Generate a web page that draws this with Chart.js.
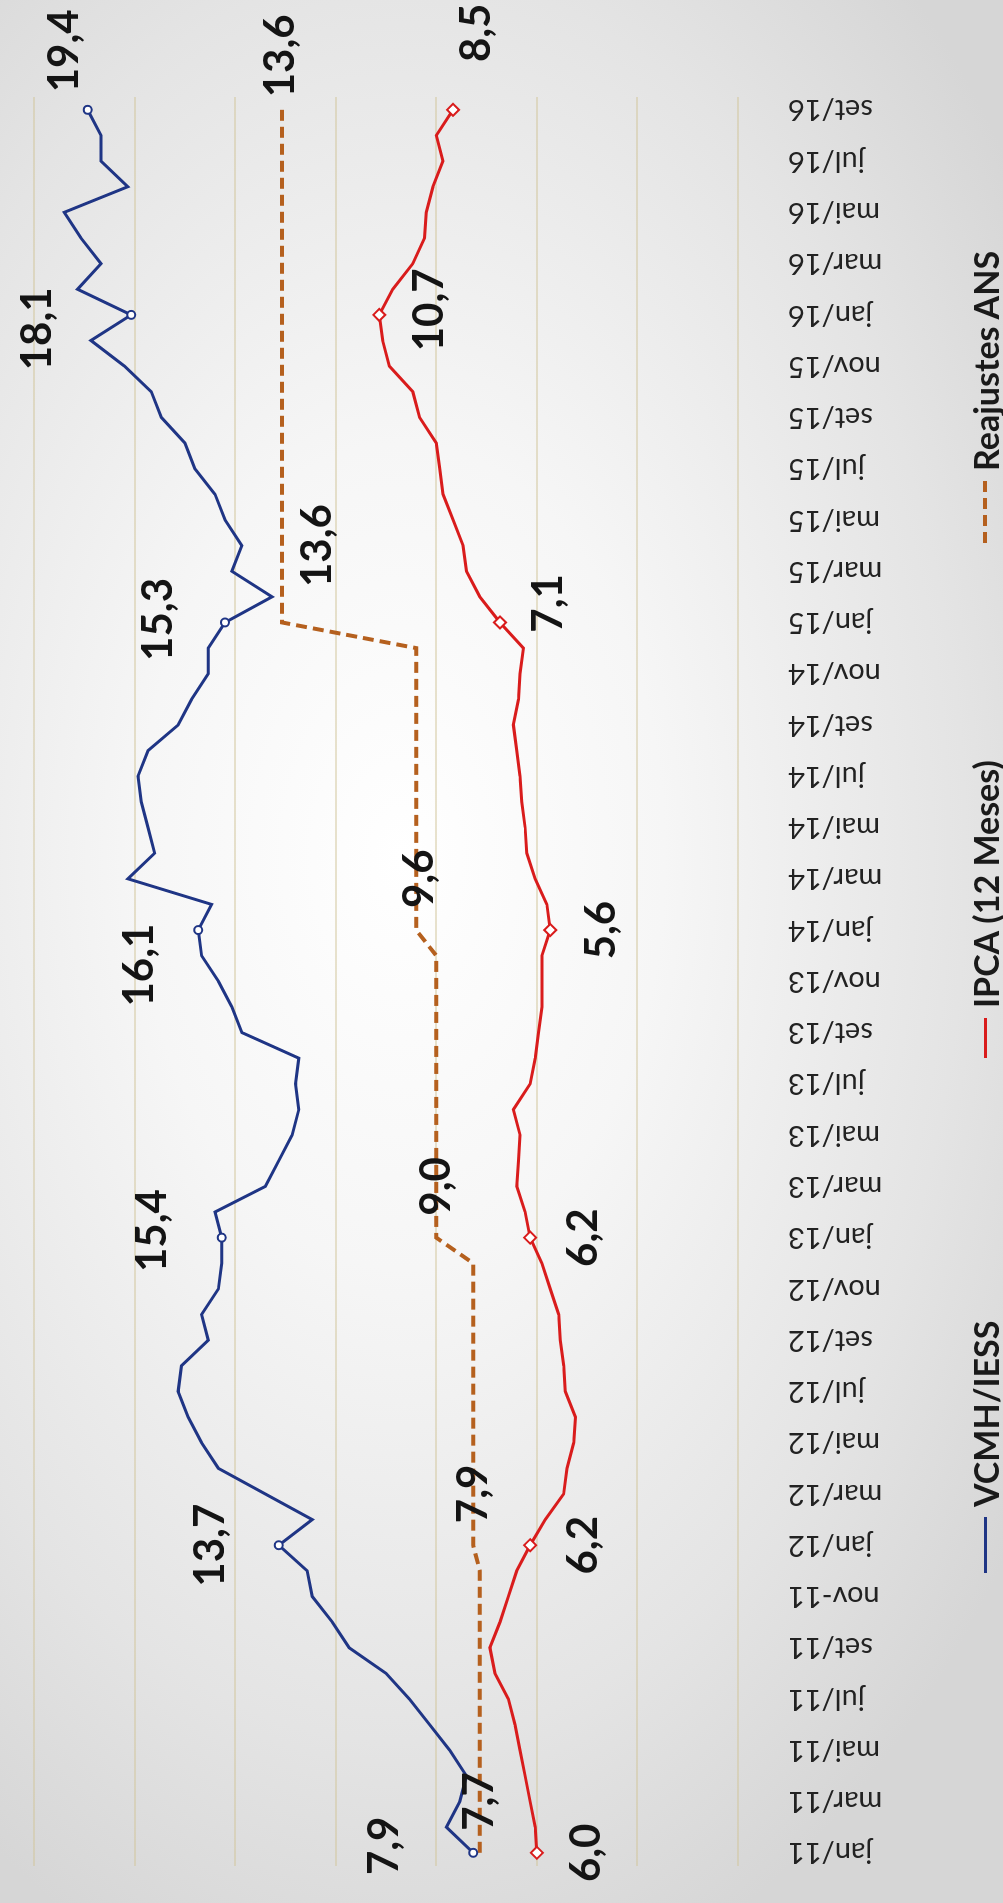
<!DOCTYPE html>
<html lang="pt-BR">
<head>
    <meta charset="UTF-8">
    <title>VCMH/IESS x IPCA x Reajustes ANS</title>
    <script src="https://cdn.jsdelivr.net/npm/chart.js"></script>
    <style>
        html, body {
            margin: 0;
            padding: 0;
        }
        body {
            width: 1003px;
            height: 1903px;
            overflow: hidden;
            position: relative;
            font-family: Lato, "Open Sans", sans-serif;
            background: radial-gradient(ellipse 75% 62% at 40% 45%, #ffffff 0%, #f6f6f6 35%, #e4e4e4 75%, #d6d6d6 100%);
        }
        /* the chart is drawn lying on its side: the frame is turned a quarter left */
        #frame {
            position: absolute;
            left: 0;
            top: 0;
            width: 1903px;
            height: 1003px;
            transform-origin: 0 0;
            transform: translate(0, 1903px) rotate(-90deg);
        }
        #chart {
            position: absolute;
            left: 0;
            top: 0;
        }
        .legend-item {
            position: absolute;
            top: 965px;
            height: 40px;
            display: flex;
            align-items: center;
            font-weight: bold;
            font-size: 34px;
            color: #1a1a1a;
            white-space: nowrap;
        }
        .key {
            display: inline-block;
            margin-right: 10px;
        }
    </style>
</head>
<body>
<div id="frame">
    <canvas id="chart" width="1903" height="1003"></canvas>
    <div class="legend-item" style="left: 330px;">
        <span class="key" style="width: 56px; height: 3px; background: #1f3585;"></span>VCMH/IESS
    </div>
    <div class="legend-item" style="left: 845px;">
        <span class="key" style="width: 40px; height: 3px; background: #d91c1c;"></span>IPCA (12 Meses)
    </div>
    <div class="legend-item" style="left: 1360px;">
        <span class="key" style="width: 62px; height: 4px; background: repeating-linear-gradient(to right, #b5601e 0 11px, transparent 11px 17px);"></span>Reajustes ANS
    </div>
</div>

<script>
    const months = [
        'jan/11', 'fev/11', 'mar/11', 'abr/11', 'mai/11', 'jun/11', 'jul/11', 'ago/11', 'set/11', 'out/11', 'nov-11', 'dez/11',
        'jan/12', 'fev/12', 'mar/12', 'abr/12', 'mai/12', 'jun/12', 'jul/12', 'ago/12', 'set/12', 'out/12', 'nov/12', 'dez/12',
        'jan/13', 'fev/13', 'mar/13', 'abr/13', 'mai/13', 'jun/13', 'jul/13', 'ago/13', 'set/13', 'out/13', 'nov/13', 'dez/13',
        'jan/14', 'fev/14', 'mar/14', 'abr/14', 'mai/14', 'jun/14', 'jul/14', 'ago/14', 'set/14', 'out/14', 'nov/14', 'dez/14',
        'jan/15', 'fev/15', 'mar/15', 'abr/15', 'mai/15', 'jun/15', 'jul/15', 'ago/15', 'set/15', 'out/15', 'nov/15', 'dez/15',
        'jan/16', 'fev/16', 'mar/16', 'abr/16', 'mai/16', 'jun/16', 'jul/16', 'ago/16', 'set/16'
    ];

    // VCMH/IESS, 12 meses (%)
    const vcmh = [
        7.9, 8.7, 8.3, 8.1, 8.6, 9.2, 9.8, 10.5, 11.6, 12.1, 12.7, 12.85,
        13.7, 12.7, 14.1, 15.5, 16.0, 16.4, 16.7, 16.6, 15.8, 16.0, 15.5, 15.4,
        15.4, 15.6, 14.1, 13.7, 13.3, 13.1, 13.2, 13.1, 14.8, 15.1, 15.5, 16.0,
        16.1, 15.7, 18.2, 17.4, 17.6, 17.8, 17.9, 17.6, 16.7, 16.3, 15.8, 15.8,
        15.3, 13.9, 15.1, 14.8, 15.3, 15.6, 16.2, 16.5, 17.2, 17.5, 18.3, 19.3,
        18.1, 19.7, 19.0, 19.6, 20.1, 18.2, 19.0, 19.0, 19.4
    ];

    // IPCA acumulado em 12 meses (%)
    const ipca = [
        6.0, 6.05, 6.2, 6.35, 6.5, 6.65, 6.85, 7.25, 7.4, 7.1, 6.85, 6.6,
        6.2, 5.75, 5.2, 5.1, 4.9, 4.85, 5.15, 5.2, 5.3, 5.35, 5.6, 5.85,
        6.2, 6.35, 6.6, 6.55, 6.5, 6.7, 6.2, 6.05, 5.95, 5.85, 5.85, 5.85,
        5.6, 5.7, 6.05, 6.3, 6.35, 6.45, 6.5, 6.6, 6.7, 6.55, 6.5, 6.4,
        7.1, 7.7, 8.1, 8.2, 8.5, 8.8, 8.9, 9.0, 9.5, 9.7, 10.4, 10.6,
        10.7, 10.3, 9.7, 9.35, 9.3, 9.1, 8.8, 9.0, 8.5
    ];

    // Reajustes ANS (%)
    const ans = [
        7.7, 7.7, 7.7, 7.7, 7.7, 7.7, 7.7, 7.7, 7.7, 7.7, 7.7, 7.7,
        7.9, 7.9, 7.9, 7.9, 7.9, 7.9, 7.9, 7.9, 7.9, 7.9, 7.9, 7.9,
        9.0, 9.0, 9.0, 9.0, 9.0, 9.0, 9.0, 9.0, 9.0, 9.0, 9.0, 9.0,
        9.6, 9.6, 9.6, 9.6, 9.6, 9.6, 9.6, 9.6, 9.6, 9.6, 9.6, 9.6,
        13.6, 13.6, 13.6, 13.6, 13.6, 13.6, 13.6, 13.6, 13.6, 13.6, 13.6, 13.6,
        13.6, 13.6, 13.6, 13.6, 13.6, 13.6, 13.6, 13.6, 13.6
    ];

    // months that carry a marker (every January and the last month)
    const markIdx = [0, 12, 24, 36, 48, 60, 68];

    // which points get a value label, and where it sits: [index, dx, dy]
    const labelSpots = [
        [[0, 7, -89], [12, 0, -68], [24, 7, -69], [36, -35, -59], [48, 3, -67], [60, -14, -94], [68, 59, -23]],
        [[0, 0, 50], [12, 0, 53], [24, 0, 53], [36, 0, 51], [48, 19, 48], [60, 5, 50], [68, 77, 23]],
        [[2, 0, 0], [14, 0, 0], [26, 0, 0], [38, 0, 3], [51, 0, 35], [68, 54, -2]]
    ];

    const blue = '#1f3585';
    const red = '#d91c1c';
    const brown = '#b5601e';

    const valueLabels = {
        id: 'valueLabels',
        afterDatasetsDraw(chart) {
            const ctx = chart.ctx;
            ctx.save();
            ctx.font = 'bold 42px Lato, "Open Sans", sans-serif';
            ctx.fillStyle = '#141414';
            ctx.textAlign = 'center';
            ctx.textBaseline = 'middle';
            labelSpots.forEach((spots, d) => {
                const meta = chart.getDatasetMeta(d);
                const values = chart.data.datasets[d].data;
                spots.forEach(([i, dx, dy]) => {
                    const pt = meta.data[i];
                    const txt = values[i].toFixed(1).replace('.', ',');
                    ctx.fillText(txt, pt.x + dx, pt.y + dy);
                });
            });
            ctx.restore();
        }
    };

    const marker = (size) => (c) => markIdx.includes(c.dataIndex) ? size : 0;

    new Chart(document.getElementById('chart'), {
        type: 'line',
        data: {
            labels: months,
            datasets: [
                {
                    label: 'VCMH/IESS',
                    data: vcmh,
                    borderColor: blue,
                    borderWidth: 3,
                    pointStyle: 'circle',
                    pointRadius: marker(4),
                    pointBackgroundColor: '#ffffff',
                    pointBorderColor: blue,
                    pointBorderWidth: 2,
                    tension: 0
                },
                {
                    label: 'IPCA (12 Meses)',
                    data: ipca,
                    borderColor: red,
                    borderWidth: 3,
                    pointStyle: 'rectRot',
                    pointRadius: marker(6),
                    pointBackgroundColor: '#ffffff',
                    pointBorderColor: red,
                    pointBorderWidth: 2,
                    tension: 0
                },
                {
                    label: 'Reajustes ANS',
                    data: ans,
                    borderColor: brown,
                    borderWidth: 4,
                    borderDash: [11, 6],
                    pointRadius: 0,
                    tension: 0
                }
            ]
        },
        options: {
            responsive: false,
            animation: false,
            devicePixelRatio: 1,
            layout: {
                padding: { left: 28, right: 97, top: 34, bottom: 0 }
            },
            plugins: {
                legend: { display: false },
                tooltip: { enabled: false }
            },
            scales: {
                x: {
                    type: 'category',
                    offset: true,
                    grid: { display: false, drawTicks: false },
                    border: { display: false },
                    ticks: {
                        autoSkip: false,
                        minRotation: 90,
                        maxRotation: 90,
                        padding: 50,
                        color: '#222222',
                        font: { family: 'Lato', size: 29 },
                        callback: function (v, i) {
                            return i % 2 === 0 ? this.getLabelForValue(v) : '';
                        }
                    },
                    afterFit: (s) => { s.height = 265; }
                },
                y: {
                    min: 0,
                    max: 21,
                    ticks: { stepSize: 3, display: false },
                    grid: { color: 'rgba(210, 198, 155, 0.5)', lineWidth: 2, drawTicks: false },
                    border: { display: false },
                    afterFit: (s) => { s.width = 0; }
                }
            }
        },
        plugins: [valueLabels]
    });
</script>
</body>
</html>
